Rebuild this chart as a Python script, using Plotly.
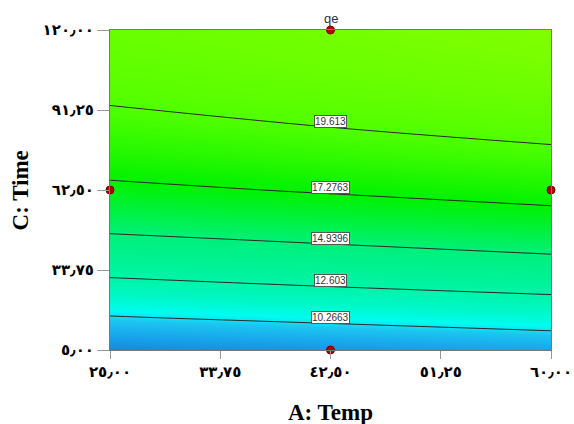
import numpy as np
import plotly.graph_objects as go

# ---- data ----
temp = [25.0, 42.5, 60.0]                       # A: Temp grid
time = [5.0, 16.5, 28.0, 39.5, 51.0, 62.5, 74.0, 85.5, 97.0, 108.5, 120.0]  # C: Time grid
qe_t25 = [7.95, 10.14, 12.13, 13.93, 15.52, 16.91, 18.11, 19.10, 19.90, 20.49, 20.89]
qe_t42 = [8.45, 10.64, 12.64, 14.44, 16.04, 17.44, 18.65, 19.65, 20.47, 21.07, 21.49]
qe_t60 = [8.95, 11.14, 13.14, 14.95, 16.56, 17.97, 19.19, 20.20, 21.03, 21.65, 22.09]

levels = [10.2663, 12.603, 14.9396, 17.2763, 19.613]
level_labels = ["10.2663", "12.603", "14.9396", "17.2763", "19.613"]

design_temp = [42.5, 25.0, 42.5, 60.0, 42.5]
design_time = [120.0, 62.5, 62.5, 62.5, 5.0]

x_ticks = [25.0, 33.75, 42.5, 51.25, 60.0]
x_ticktext = ["٢٥٫٠٠", "٣٣٫٧٥", "٤٢٫٥٠", "٥١٫٢٥", "٦٠٫٠٠"]
y_ticks = [5.0, 33.75, 62.5, 91.25, 120.0]
y_ticktext = ["٥٫٠٠", "٣٣٫٧٥", "٦٢٫٥٠", "٩١٫٢٥", "١٢٠٫٠٠"]

# ---- build figure ----
z = np.array([qe_t25, qe_t42, qe_t60]).T  # rows = time, cols = temp

zmin, zmax = 7.9, 22.1
def pos(v):
    return (v - zmin) / (zmax - zmin)

colorscale = [
    [0.0, "#1488dc"],
    [pos(9.0), "#18a6ec"],
    [pos(10.0), "#1cc6f0"],
    [pos(10.3), "#10e2f4"],
    [pos(10.6), "#00fcf0"],
    [pos(11.5), "#00f8c8"],
    [pos(12.6), "#00f4a8"],
    [pos(14.9), "#00f07c"],
    [pos(17.3), "#00f200"],
    [pos(19.6), "#50ff00"],
    [1.0, "#80ff00"],
]

fig = go.Figure()
fig.add_trace(go.Contour(
    x=temp, y=time, z=z,
    zmin=zmin, zmax=zmax, zauto=False,
    colorscale=colorscale, showscale=False,
    contours=dict(coloring="heatmap", start=levels[0], end=levels[-1] + 0.001,
                  size=levels[1] - levels[0], showlabels=False),
    line=dict(color="#2a2a2a", width=1, smoothing=1.0),
    hoverinfo="skip",
))

fig.add_trace(go.Scatter(
    x=design_temp, y=design_time, mode="markers",
    marker=dict(size=8, color="#b40000", line=dict(color="#700000", width=1)),
    cliponaxis=False, hoverinfo="skip", showlegend=False,
))

# contour labels at the centre column
for lv, txt in zip(levels, level_labels):
    yv = float(np.interp(lv, qe_t42, time))
    fig.add_annotation(
        x=42.5, y=yv, text=txt, showarrow=False, yshift=6,
        font=dict(family="Arial, Liberation Sans, sans-serif", size=10, color="#333333"),
        bgcolor="white", bordercolor="#555555", borderwidth=1, borderpad=0,
    )

serif = "Liberation Serif, Times New Roman, serif"
fig.add_annotation(xref="paper", yref="paper", x=0.5, y=1.035, text="qe",
                   showarrow=False, xanchor="center", yanchor="middle",
                   font=dict(family="Arial, Liberation Sans, sans-serif", size=13, color="#333333"))
fig.add_annotation(xref="paper", yref="paper", x=0.5, y=-0.195, text="<b>A: Temp</b>",
                   showarrow=False, xanchor="center", yanchor="middle",
                   font=dict(family=serif, size=23, color="black"))
fig.add_annotation(xref="paper", yref="paper", x=-0.203, y=0.5, text="<b>C: Time</b>",
                   showarrow=False, xanchor="center", yanchor="middle", textangle=-90,
                   font=dict(family=serif, size=23, color="black"))

tickfont = dict(family="DejaVu Sans, sans-serif", size=15, color="black", weight="bold")

fig.update_layout(
    width=574, height=424,
    margin=dict(l=110, r=23, t=30, b=74),
    paper_bgcolor="white", plot_bgcolor="white",
    showlegend=False,
    xaxis=dict(
        range=[25, 60], tickvals=x_ticks, ticktext=x_ticktext, automargin=False,
        ticks="outside", ticklen=8, tickcolor="#999999", tickwidth=1,
        showline=True, linecolor="#777777", linewidth=1, mirror=True,
        showgrid=False, zeroline=False, tickfont=tickfont,
    ),
    yaxis=dict(
        range=[5, 120], tickvals=y_ticks, ticktext=y_ticktext, automargin=False,
        ticks="outside", ticklen=12, tickcolor="#999999", tickwidth=1,
        showline=True, linecolor="#777777", linewidth=1, mirror=True,
        showgrid=False, zeroline=False, tickfont=tickfont,
    ),
)

fig.write_html(
    "out.html",
    config={"displayModeBar": False},
    post_script="document.body.style.margin='0';document.body.style.overflow='hidden';",
)
